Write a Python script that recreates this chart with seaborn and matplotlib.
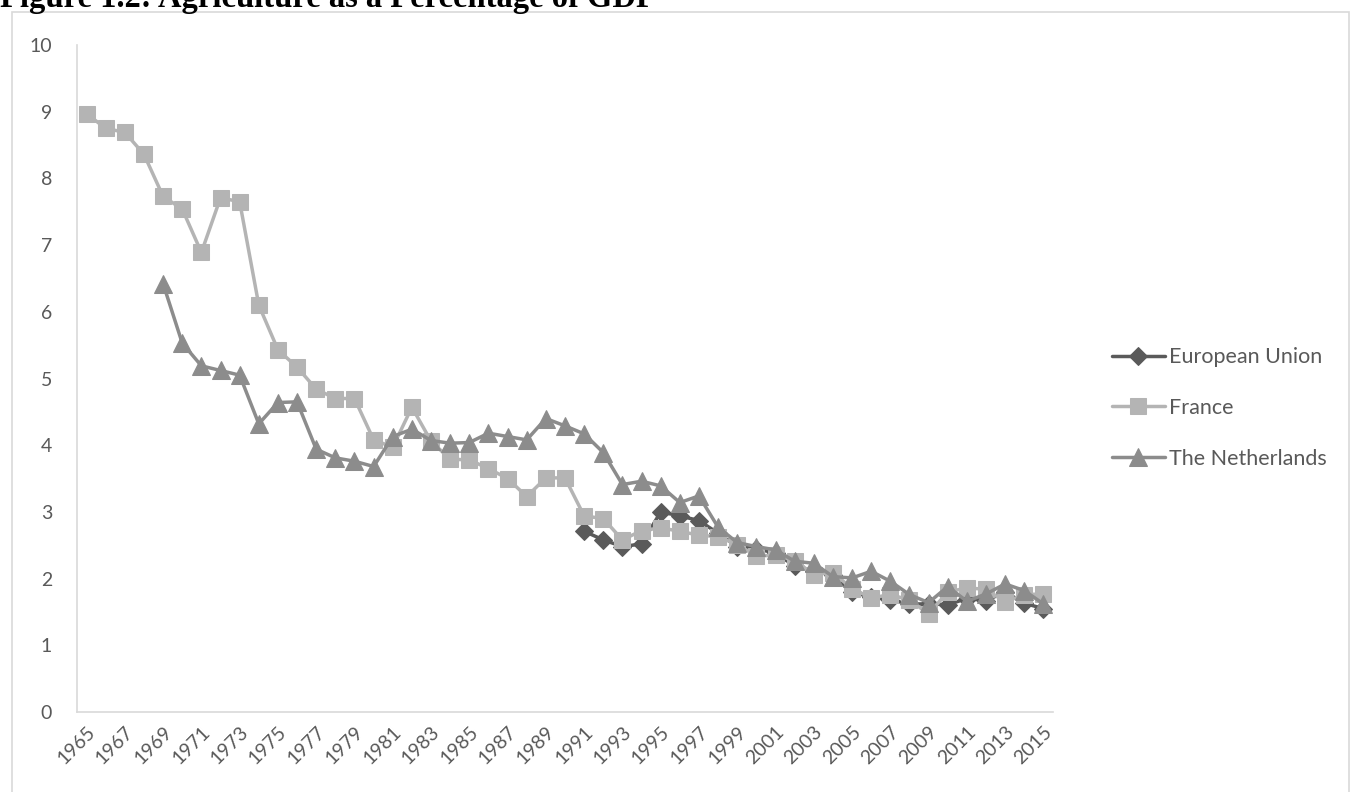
import numpy as np
import pandas as pd
import matplotlib
matplotlib.use("Agg")
import matplotlib.pyplot as plt
from matplotlib.patches import Rectangle
import seaborn as sns

# Agriculture value added as a share of GDP (%)
years = list(range(1965, 2016))

france = [8.97, 8.75, 8.69, 8.36, 7.73, 7.54, 6.89, 7.71, 7.65, 6.10,
          5.43, 5.17, 4.84, 4.70, 4.70, 4.08, 3.97, 4.57, 4.06, 3.79,
          3.78, 3.65, 3.50, 3.23, 3.51, 3.51, 2.94, 2.90, 2.58, 2.72,
          2.76, 2.71, 2.65, 2.63, 2.51, 2.34, 2.35, 2.27, 2.06, 2.09,
          1.85, 1.71, 1.76, 1.68, 1.47, 1.80, 1.86, 1.84, 1.65, 1.76,
          1.77]

netherlands = [np.nan, np.nan, np.nan, np.nan,
               6.42, 5.53, 5.19, 5.12, 5.05, 4.32, 4.64, 4.65, 3.94, 3.81,
               3.76, 3.68, 4.13, 4.24, 4.07, 4.03, 4.04, 4.18, 4.13, 4.08,
               4.40, 4.29, 4.17, 3.89, 3.41, 3.46, 3.39, 3.14, 3.24, 2.77,
               2.54, 2.48, 2.43, 2.26, 2.23, 2.03, 2.01, 2.11, 1.96, 1.76,
               1.64, 1.88, 1.66, 1.77, 1.92, 1.82, 1.62]

european_union = [np.nan] * 26 + [
    2.71, 2.58, 2.48, 2.52, 3.00, 2.94, 2.87, 2.68, 2.48, 2.45,
    2.38, 2.19, 2.12, 2.05, 1.80, 1.72, 1.68, 1.62, 1.62, 1.61,
    1.70, 1.67, 1.80, 1.63, 1.55]

series_names = ["European Union", "France", "The Netherlands"]
series_values = [european_union, france, netherlands]
tick_years = list(range(1965, 2016, 2))
y_ticks = list(range(0, 11))

sns.set_style("white")
plt.rcParams["font.family"] = ["Lato", "DejaVu Sans"]

fig = plt.figure(figsize=(13.56, 7.92), dpi=100)
ax = fig.add_axes([77 / 1356, 1 - 712 / 792, (1053 - 77) / 1356, (712 - 45) / 792])

styles = {
    "European Union": dict(color="#5A5A5A", marker="D", markersize=9.5),
    "France": dict(color="#B4B4B4", marker="s", markersize=12),
    "The Netherlands": dict(color="#8C8C8C", marker="^", markersize=13),
}

frames = []
for name, vals in zip(series_names, series_values):
    frames.append(pd.DataFrame({"year": years, "share": vals, "series": name}))
data = pd.concat(frames, ignore_index=True)

for name in series_names:
    st = styles[name]
    sub = data[data["series"] == name].dropna()
    sns.lineplot(data=sub, x="year", y="share", ax=ax, color=st["color"],
                 linewidth=2.5, marker=st["marker"], markersize=st["markersize"],
                 markeredgecolor=st["color"], markerfacecolor=st["color"],
                 label=name, legend=False)

ax.set_xlim(1964.5, 2015.5)
ax.set_ylim(0, 10)
ax.set_yticks(y_ticks)
ax.set_yticklabels([str(v) for v in y_ticks])
ax.set_xticks(tick_years)
ax.set_xticklabels([str(y) for y in tick_years], rotation=45, ha="right",
                   rotation_mode="anchor")
ax.set_xlabel("")
ax.set_ylabel("")
ax.tick_params(axis="both", length=0, labelsize=14, colors="#595959")
ax.tick_params(axis="y", pad=18)
ax.tick_params(axis="x", pad=8)
for side in ["top", "right"]:
    ax.spines[side].set_visible(False)
for side in ["left", "bottom"]:
    ax.spines[side].set_color("#D9D9D9")
    ax.spines[side].set_linewidth(1.2)

handles, labels = ax.get_legend_handles_labels()
leg = ax.legend(handles, labels, loc="center left",
                bbox_to_anchor=(1112 / 1356, 1 - 408 / 792),
                bbox_transform=fig.transFigure, frameon=False,
                fontsize=15.5, handlelength=2.45, handletextpad=0.2,
                labelspacing=1.42, borderpad=0, borderaxespad=0)
for txt in leg.get_texts():
    txt.set_color("#595959")

# chart-area border
fig.patches.append(Rectangle((12 / 1356, -0.05), (1349 - 12) / 1356, 1.05 - 12 / 792,
                             transform=fig.transFigure, fill=False,
                             edgecolor="#D9D9D9", linewidth=1.2))

fig.text(0, 1 - 7 / 792, "Figure 1.2: Agriculture as a Percentage of GDP",
         fontfamily="Liberation Serif", fontweight="bold", fontsize=23.5,
         ha="left", va="baseline", color="black")

fig.savefig("out.png", dpi=100)
